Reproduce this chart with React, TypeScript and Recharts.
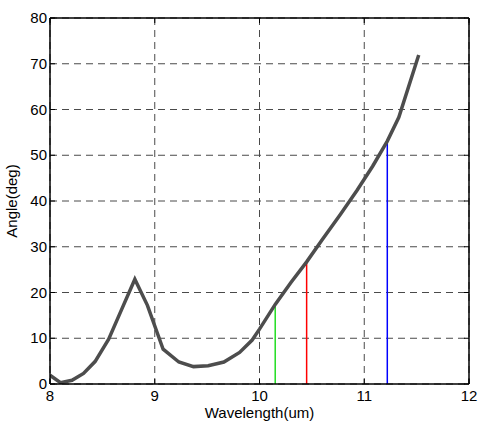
import React from "react";
import {
  LineChart,
  Line,
  XAxis,
  YAxis,
  CartesianGrid,
  ReferenceLine,
} from "recharts";

const wavelength = [
  8.0, 8.1, 8.21, 8.32, 8.43, 8.56, 8.68, 8.81, 8.93, 9.08, 9.23, 9.37, 9.51,
  9.66, 9.81, 9.93, 10.0, 10.15, 10.3, 10.45, 10.6, 10.77, 10.93, 11.08, 11.22,
  11.33, 11.52,
];
const angle = [
  1.9, 0.3, 0.8, 2.3, 4.9, 9.8, 16.1, 22.9, 17.2, 7.6, 4.8, 3.8, 4.0, 4.8, 6.9,
  9.6, 12.0, 17.4, 22.2, 26.7, 31.6, 37.0, 42.3, 47.6, 53.1, 58.3, 71.9,
];

const markerWavelength = [10.15, 10.45, 11.22];
const markerAngle = [17.4, 26.7, 53.1];
const markerColors = ["#22dd22", "#ff0000", "#0000ff"];

const xTicks = [8, 9, 10, 11, 12];
const yTicks = [0, 10, 20, 30, 40, 50, 60, 70, 80];

const data = wavelength.map((w, i) => ({ wavelength: w, angle: angle[i] }));

const FONT = "'Liberation Sans', Arial, sans-serif";
const W = 479;
const H = 423;
const MARGIN = { top: 18, right: 10, left: 8, bottom: 0 };
const Y_AXIS_W = 42;
const X_AXIS_H = 39;
// plot box size, used to put the inward ticks on the top and right frame
const PLOT_W = W - MARGIN.left - MARGIN.right - Y_AXIS_W;
const PLOT_H = H - MARGIN.top - MARGIN.bottom - X_AXIS_H;

function BottomTick({ x, y, payload }: any) {
  return (
    <g>
      <line x1={x} y1={y} x2={x} y2={y - 5} stroke="#000" />
      <line x1={x} y1={y - PLOT_H} x2={x} y2={y - PLOT_H + 5} stroke="#000" />
      <text x={x} y={y + 17} textAnchor="middle" fontSize={15} fill="#000" fontFamily={FONT}>
        {payload.value}
      </text>
    </g>
  );
}

function LeftTick({ x, y, payload }: any) {
  return (
    <g>
      <line x1={x} y1={y} x2={x + 5} y2={y} stroke="#000" />
      <line x1={x + PLOT_W} y1={y} x2={x + PLOT_W - 5} y2={y} stroke="#000" />
      <text x={x - 3} y={y + 5} textAnchor="end" fontSize={15} fill="#000" fontFamily={FONT}>
        {payload.value}
      </text>
    </g>
  );
}

export default function App() {
  return (
    <div style={{ fontFamily: FONT, position: "absolute", left: 0, top: 0 }}>
      <LineChart width={W} height={H} data={data} margin={MARGIN}>
        <CartesianGrid strokeDasharray="7 5" stroke="#4a4a4a" />
        <XAxis
          dataKey="wavelength"
          type="number"
          domain={[8, 12]}
          ticks={xTicks}
          height={X_AXIS_H}
          tickSize={0}
          tickMargin={0}
          tickLine={false}
          tick={<BottomTick />}
          axisLine={{ stroke: "#000", strokeWidth: 1.5 }}
          allowDataOverflow
          label={{
            value: "Wavelength(um)",
            position: "insideBottom",
            offset: 5,
            fontSize: 15,
            fill: "#000",
          }}
        />
        <YAxis
          type="number"
          domain={[0, 80]}
          ticks={yTicks}
          width={Y_AXIS_W}
          tickSize={0}
          tickMargin={0}
          tickLine={false}
          tick={<LeftTick />}
          axisLine={{ stroke: "#000", strokeWidth: 1.5 }}
          allowDataOverflow
          label={{
            value: "Angle(deg)",
            angle: -90,
            position: "insideLeft",
            offset: 4,
            fontSize: 15,
            fill: "#000",
            style: { textAnchor: "middle" },
          }}
        />
        <ReferenceLine y={80} stroke="#000" strokeWidth={1.5} />
        <ReferenceLine x={12} stroke="#000" strokeWidth={1.5} />
        {markerWavelength.map((w, i) => (
          <ReferenceLine
            key={i}
            segment={[
              { x: w, y: 0 },
              { x: w, y: markerAngle[i] },
            ]}
            stroke={markerColors[i]}
            strokeWidth={1.5}
          />
        ))}
        <Line
          type="linear"
          dataKey="angle"
          stroke="#4d4d4d"
          strokeWidth={3.5}
          dot={false}
          isAnimationActive={false}
        />
      </LineChart>
    </div>
  );
}
